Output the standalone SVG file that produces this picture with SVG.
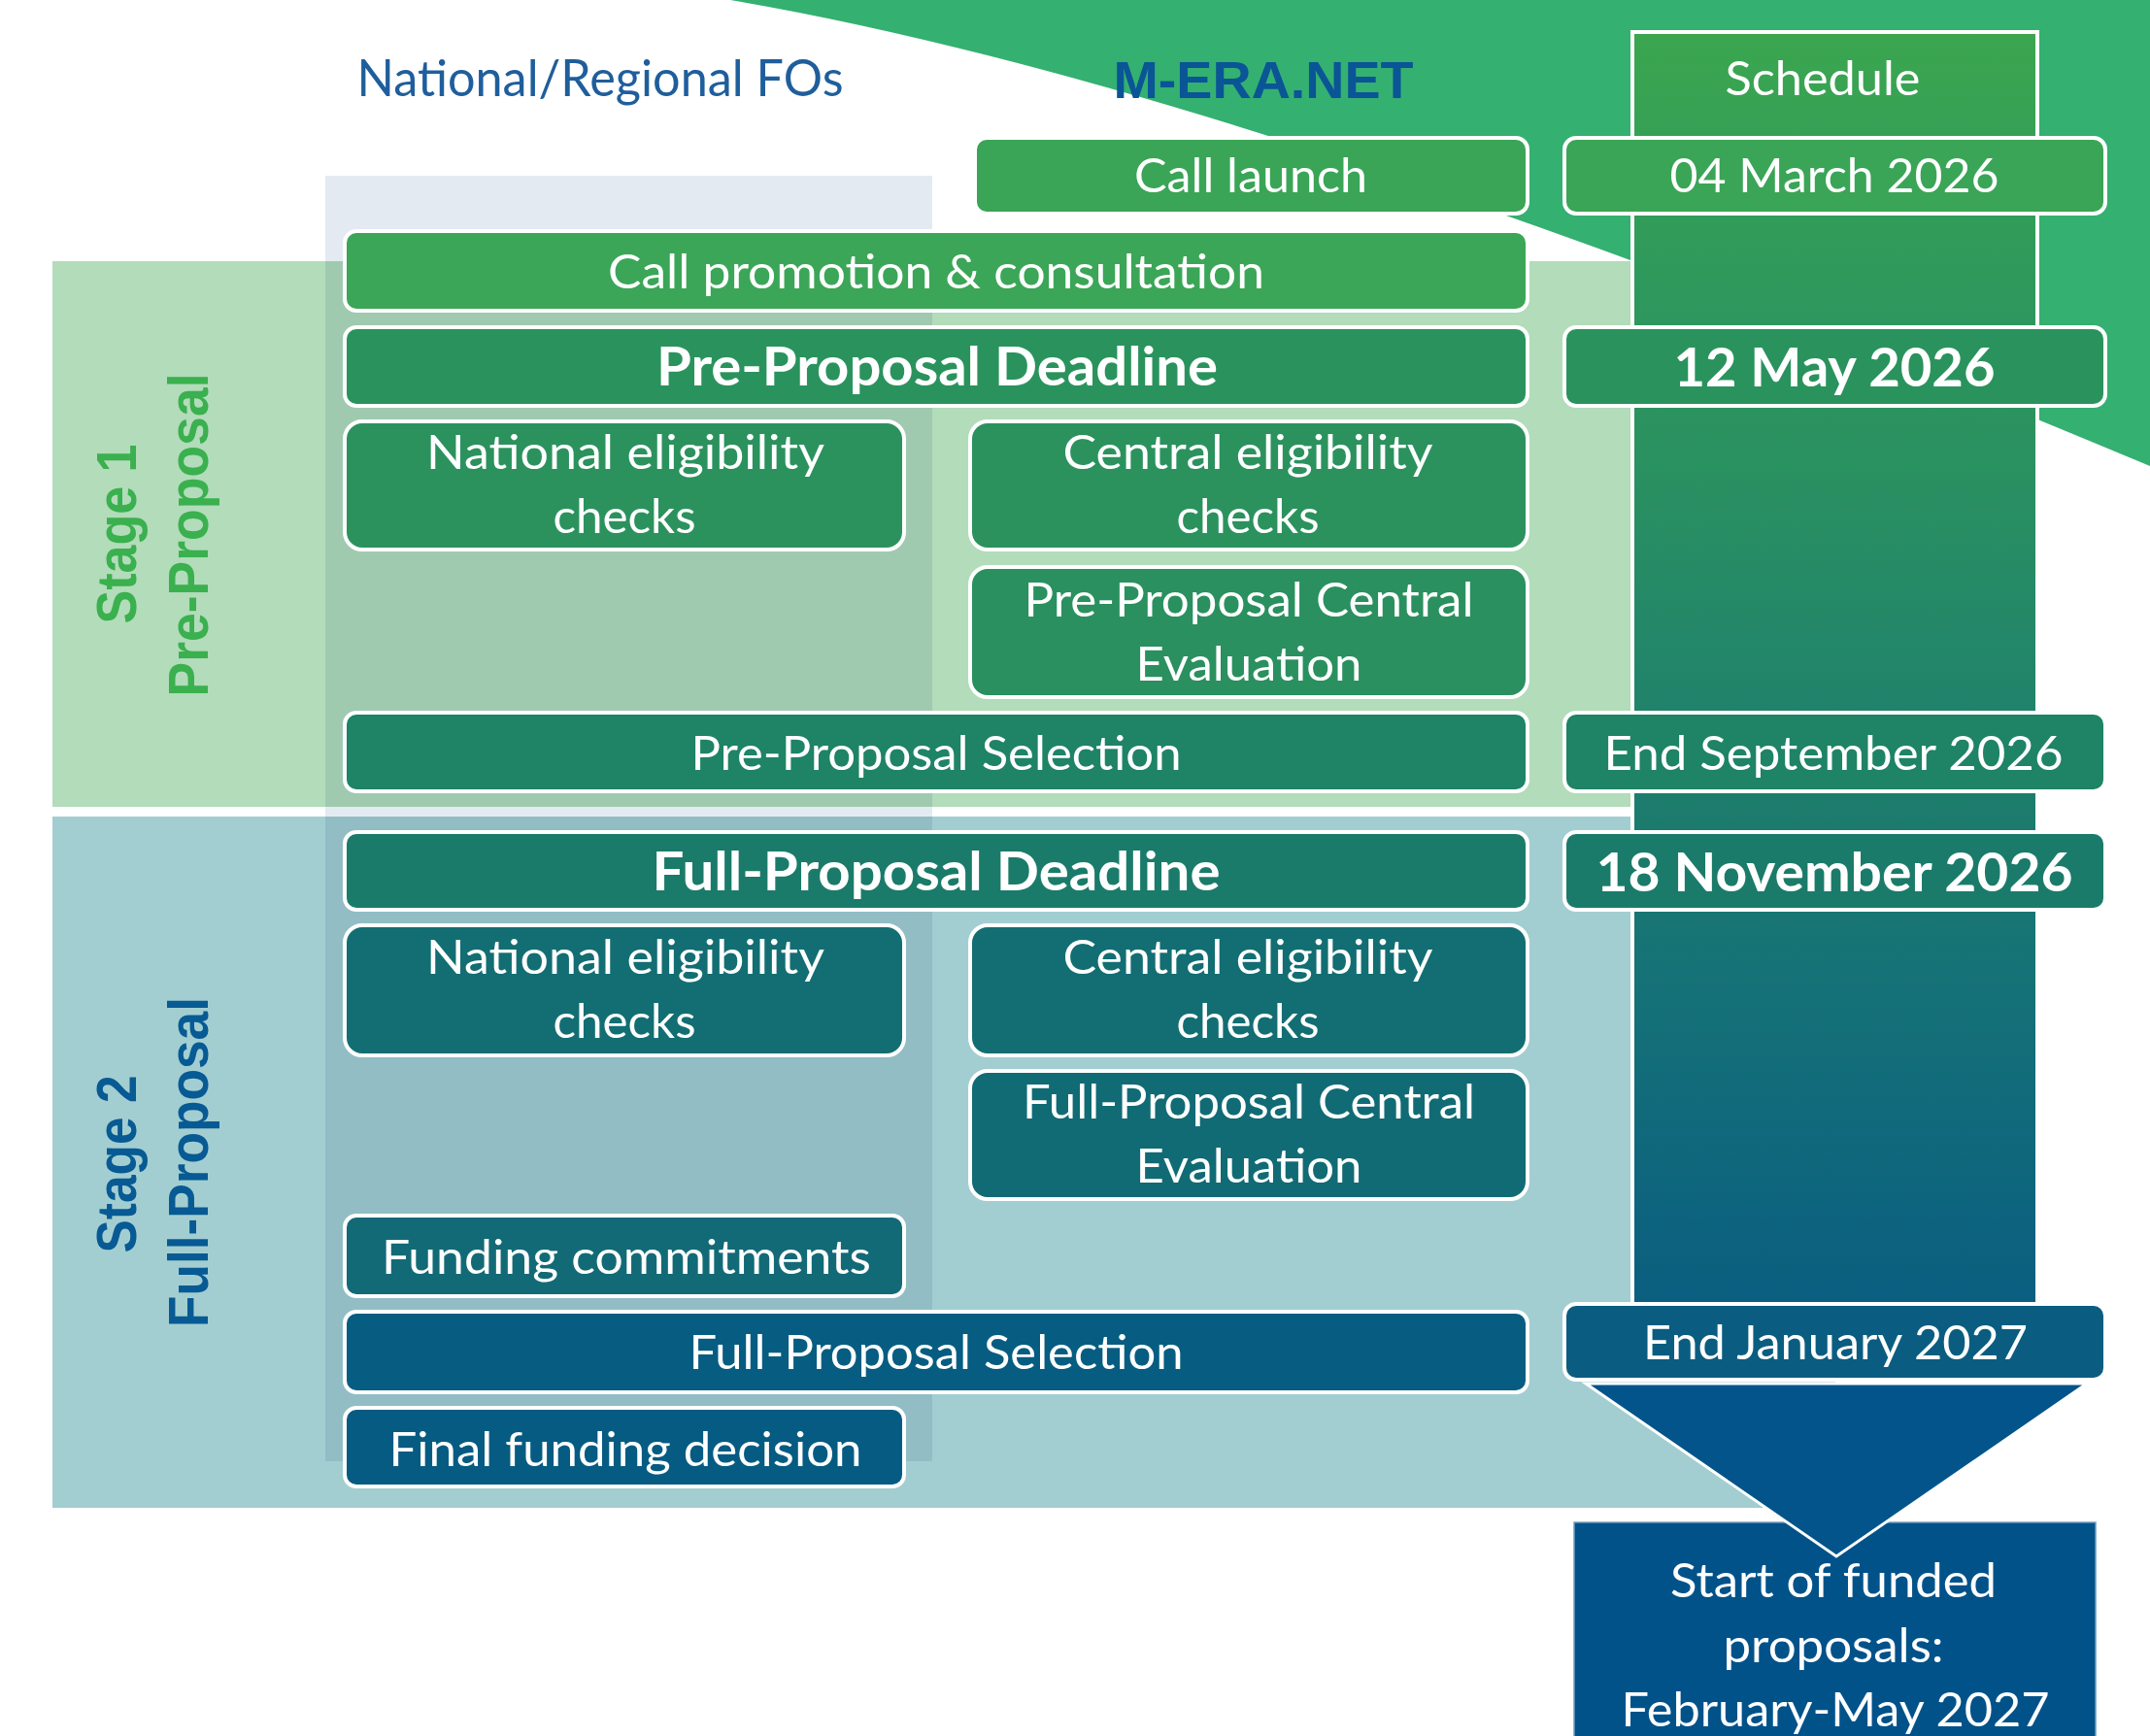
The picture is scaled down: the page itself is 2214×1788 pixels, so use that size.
<svg xmlns="http://www.w3.org/2000/svg" width="2214" height="1788" viewBox="0 0 2214 1788">
  <defs>
    <linearGradient id="colGrad" gradientUnits="userSpaceOnUse" x1="0" y1="32" x2="0" y2="1345">
      <stop offset="0" stop-color="#3BA64F"/>
      <stop offset="0.19" stop-color="#2F995C"/>
      <stop offset="0.335" stop-color="#2A9160"/>
      <stop offset="0.48" stop-color="#238769"/>
      <stop offset="0.618" stop-color="#1C7B6D"/>
      <stop offset="0.74" stop-color="#157277"/>
      <stop offset="1" stop-color="#0A5E80"/>
    </linearGradient>
    <style>
      .box { stroke: #ffffff; stroke-width: 4; }
      .t { font-family: Lato, "Open Sans", "Liberation Sans", sans-serif; font-size: 48.5px; fill: #ffffff; text-anchor: middle; }
      .tb { font-weight: 700; font-size: 56px; }
      .hdr { font-family: Lato, "Open Sans", "Liberation Sans", sans-serif; font-size: 52px; fill: #1F5E9C; text-anchor: middle; }
      .mera { font-family: "Liberation Sans", Arial, sans-serif; font-weight: 700; font-size: 54px; fill: #0A5596; text-anchor: middle; }
      .stage { font-family: "Liberation Sans", Arial, sans-serif; font-weight: 700; font-size: 57px; text-anchor: middle; }
    </style>
  </defs>

  <rect x="0" y="0" width="2214" height="1788" fill="#ffffff"/>

  <!-- background shapes -->
  <g id="background">
    <path d="M752,0 Q1288,91 2214,480 L2214,0 Z" fill="#34B071"/>
    <rect x="54" y="269" width="1626" height="562" fill="#B2DCBA"/>
    <rect x="54" y="841" width="1836" height="712" fill="#A3CED1"/>
    <rect x="335" y="181" width="625" height="1324" fill="#E4EAF1" style="mix-blend-mode: multiply"/>
  </g>

  <!-- header labels -->
  <g id="headers">
    <text class="hdr" x="618" y="99" textLength="501" lengthAdjust="spacingAndGlyphs">National/Regional FOs</text>
    <text class="mera" x="1301" y="101" textLength="309" lengthAdjust="spacingAndGlyphs">M-ERA.NET</text>
  </g>

  <!-- stage labels -->
  <g id="stage-1-label" fill="#3AB04E">
    <text class="stage" transform="translate(140,550) rotate(-90)" textLength="185" lengthAdjust="spacingAndGlyphs">Stage 1</text>
    <text class="stage" transform="translate(214,551) rotate(-90)" textLength="333" lengthAdjust="spacingAndGlyphs">Pre-Proposal</text>
  </g>
  <g id="stage-2-label" fill="#075A93">
    <text class="stage" transform="translate(140,1199) rotate(-90)" textLength="183" lengthAdjust="spacingAndGlyphs">Stage 2</text>
    <text class="stage" transform="translate(214,1197) rotate(-90)" textLength="340" lengthAdjust="spacingAndGlyphs">Full-Proposal</text>
  </g>

  <!-- schedule column -->
  <g id="schedule">
    <rect class="box" x="1681" y="33" width="417" height="1312" fill="url(#colGrad)"/>
    <text class="t" x="1877" y="98" font-size="50" textLength="201" lengthAdjust="spacingAndGlyphs">Schedule</text>
  </g>

  <!-- stage 1 nodes -->
  <g id="call-launch">
    <rect class="box" x="1004" y="142" width="569" height="78" rx="12" fill="#3AA556"/>
    <text class="t" x="1288" y="198" textLength="240" lengthAdjust="spacingAndGlyphs">Call launch</text>
  </g>
  <g id="date-call-launch">
    <rect class="box" x="1611" y="142" width="557" height="78" rx="12" fill="#3AA556"/>
    <text class="t" x="1889" y="198" textLength="339" lengthAdjust="spacingAndGlyphs">04 March 2026</text>
  </g>
  <g id="call-promotion">
    <rect class="box" x="355" y="238" width="1218" height="82" rx="12" fill="#3BA657"/>
    <text class="t" x="964" y="297" textLength="676" lengthAdjust="spacingAndGlyphs">Call promotion &amp; consultation</text>
  </g>
  <g id="pre-proposal-deadline">
    <rect class="box" x="355" y="337" width="1218" height="81" rx="12" fill="#2A935D"/>
    <text class="t tb" x="965" y="397" textLength="578" lengthAdjust="spacingAndGlyphs">Pre-Proposal Deadline</text>
  </g>
  <g id="date-pre-proposal-deadline">
    <rect class="box" x="1611" y="337" width="557" height="81" rx="12" fill="#2A935D"/>
    <text class="t tb" x="1889" y="398" textLength="331" lengthAdjust="spacingAndGlyphs">12 May 2026</text>
  </g>
  <g id="national-eligibility-1">
    <rect class="box" x="355" y="434" width="576" height="132" rx="18" fill="#2B925E"/>
    <text class="t" x="644" y="483" textLength="410" lengthAdjust="spacingAndGlyphs">National eligibility</text>
    <text class="t" x="643" y="549" textLength="147" lengthAdjust="spacingAndGlyphs">checks</text>
  </g>
  <g id="central-eligibility-1">
    <rect class="box" x="999" y="434" width="574" height="132" rx="18" fill="#2B925E"/>
    <text class="t" x="1285" y="483" textLength="381" lengthAdjust="spacingAndGlyphs">Central eligibility</text>
    <text class="t" x="1285" y="549" textLength="147" lengthAdjust="spacingAndGlyphs">checks</text>
  </g>
  <g id="pre-proposal-evaluation">
    <rect class="box" x="999" y="584" width="574" height="134" rx="18" fill="#2A905F"/>
    <text class="t" x="1286" y="635" textLength="463" lengthAdjust="spacingAndGlyphs">Pre-Proposal Central</text>
    <text class="t" x="1286" y="701" textLength="233" lengthAdjust="spacingAndGlyphs">Evaluation</text>
  </g>
  <g id="pre-proposal-selection">
    <rect class="box" x="355" y="734" width="1218" height="81" rx="12" fill="#1F8366"/>
    <text class="t" x="964" y="793" textLength="505" lengthAdjust="spacingAndGlyphs">Pre-Proposal Selection</text>
  </g>
  <g id="date-pre-proposal-selection">
    <rect class="box" x="1611" y="734" width="557" height="81" rx="12" fill="#1F8366"/>
    <text class="t" x="1888" y="793" textLength="473" lengthAdjust="spacingAndGlyphs">End September 2026</text>
  </g>

  <!-- stage 2 nodes -->
  <g id="full-proposal-deadline">
    <rect class="box" x="355" y="857" width="1218" height="80" rx="12" fill="#1B7B6A"/>
    <text class="t tb" x="964" y="917" textLength="585" lengthAdjust="spacingAndGlyphs">Full-Proposal Deadline</text>
  </g>
  <g id="date-full-proposal-deadline">
    <rect class="box" x="1611" y="857" width="557" height="80" rx="12" fill="#1B7B6A"/>
    <text class="t tb" x="1889" y="918" textLength="491" lengthAdjust="spacingAndGlyphs">18 November 2026</text>
  </g>
  <g id="national-eligibility-2">
    <rect class="box" x="355" y="953" width="576" height="134" rx="18" fill="#126E73"/>
    <text class="t" x="644" y="1003" textLength="410" lengthAdjust="spacingAndGlyphs">National eligibility</text>
    <text class="t" x="643" y="1069" textLength="147" lengthAdjust="spacingAndGlyphs">checks</text>
  </g>
  <g id="central-eligibility-2">
    <rect class="box" x="999" y="953" width="574" height="134" rx="18" fill="#126E73"/>
    <text class="t" x="1285" y="1003" textLength="381" lengthAdjust="spacingAndGlyphs">Central eligibility</text>
    <text class="t" x="1285" y="1069" textLength="147" lengthAdjust="spacingAndGlyphs">checks</text>
  </g>
  <g id="full-proposal-evaluation">
    <rect class="box" x="999" y="1103" width="574" height="132" rx="18" fill="#116B75"/>
    <text class="t" x="1286" y="1152" textLength="466" lengthAdjust="spacingAndGlyphs">Full-Proposal Central</text>
    <text class="t" x="1286" y="1218" textLength="233" lengthAdjust="spacingAndGlyphs">Evaluation</text>
  </g>
  <g id="funding-commitments">
    <rect class="box" x="355" y="1252" width="576" height="83" rx="12" fill="#136A77"/>
    <text class="t" x="645" y="1312" textLength="504" lengthAdjust="spacingAndGlyphs">Funding commitments</text>
  </g>
  <g id="full-proposal-selection">
    <rect class="box" x="355" y="1351" width="1218" height="83" rx="12" fill="#075D81"/>
    <text class="t" x="964" y="1410" textLength="509" lengthAdjust="spacingAndGlyphs">Full-Proposal Selection</text>
  </g>
  <g id="date-full-proposal-selection">
    <rect class="box" x="1611" y="1343" width="557" height="78" rx="12" fill="#0A5D80"/>
    <text class="t" x="1890" y="1400" textLength="396" lengthAdjust="spacingAndGlyphs">End January 2027</text>
  </g>
  <g id="final-funding-decision">
    <rect class="box" x="355" y="1450" width="576" height="81" rx="12" fill="#065B82"/>
    <text class="t" x="644" y="1510" textLength="487" lengthAdjust="spacingAndGlyphs">Final funding decision</text>
  </g>

  <g id="start-funded-proposals">
    <rect x="1621" y="1568" width="537" height="230" fill="#02528A" stroke="#6F9CBD" stroke-width="1.5"/>
    <text class="t" x="1888" y="1645" textLength="336" lengthAdjust="spacingAndGlyphs">Start of funded</text>
    <text class="t" x="1888" y="1712" textLength="227" lengthAdjust="spacingAndGlyphs">proposals:</text>
    <text class="t" x="1890" y="1778" textLength="441" lengthAdjust="spacingAndGlyphs">February-May 2027</text>
  </g>

  <!-- connector: arrow from schedule to start -->
  <g id="connectors">
    <polygon points="1633,1425 2149,1425 1891,1603" fill="#03548A" stroke="#ffffff" stroke-width="3" stroke-linejoin="miter"/>
  </g>
</svg>
